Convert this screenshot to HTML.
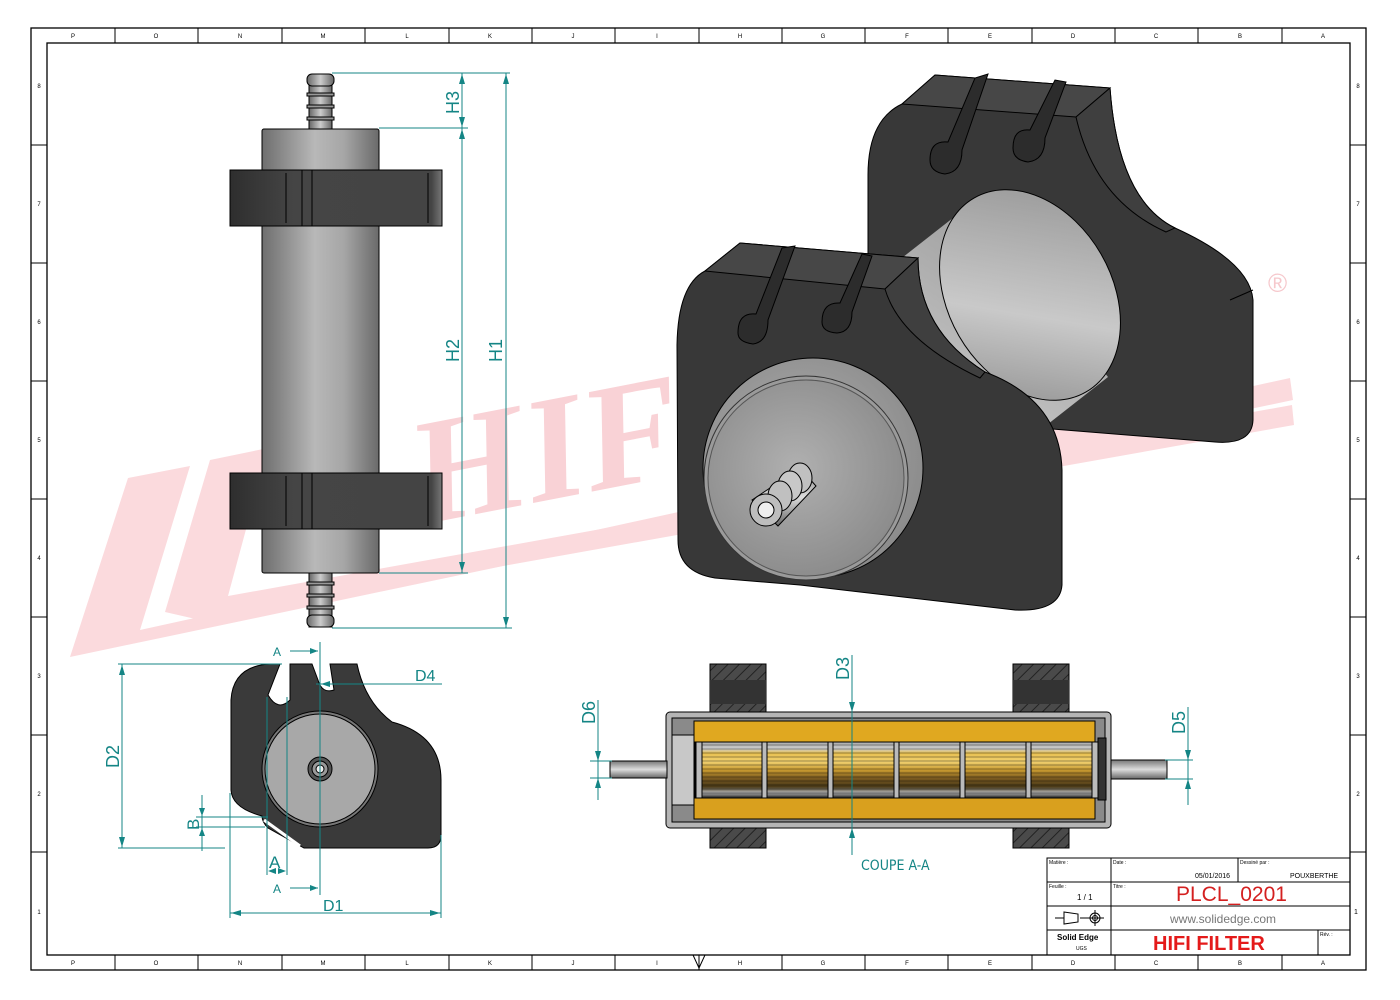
<!DOCTYPE html>
<html><head><meta charset="utf-8"><style>
html,body{margin:0;padding:0;background:#fff;}
svg{display:block;font-family:"Liberation Sans",sans-serif;}
</style></head><body>
<svg width="1400" height="1000" viewBox="0 0 1400 1000" xmlns="http://www.w3.org/2000/svg">
<defs>
<linearGradient id="cylH" x1="0" x2="1" y1="0" y2="0">
<stop offset="0" stop-color="#6e6e6e"/><stop offset="0.45" stop-color="#b8b8b8"/><stop offset="0.7" stop-color="#a6a6a6"/><stop offset="1" stop-color="#6a6a6a"/></linearGradient>
<linearGradient id="clampH" x1="0" x2="1"><stop offset="0" stop-color="#2e2e2e"/><stop offset="0.3" stop-color="#454545"/><stop offset="0.95" stop-color="#444"/><stop offset="1" stop-color="#777"/></linearGradient>
<linearGradient id="barb" x1="0" x2="1"><stop offset="0" stop-color="#666"/><stop offset="0.5" stop-color="#ccc"/><stop offset="1" stop-color="#666"/></linearGradient>
<linearGradient id="barbV" x1="0" x2="0" y1="0" y2="1"><stop offset="0" stop-color="#777"/><stop offset="0.5" stop-color="#ddd"/><stop offset="1" stop-color="#666"/></linearGradient>
<linearGradient id="tube" x1="0" y1="1" x2="0.6" y2="0"><stop offset="0" stop-color="#8a8a8a"/><stop offset="0.5" stop-color="#c9c9c9"/><stop offset="1" stop-color="#a0a0a0"/></linearGradient>
<radialGradient id="cap" cx="0.45" cy="0.45" r="0.6"><stop offset="0" stop-color="#b0b0b0"/><stop offset="1" stop-color="#8a8a8a"/></radialGradient>
<linearGradient id="core" x1="0" x2="0" y1="0" y2="1">
<stop offset="0" stop-color="#aaa"/><stop offset="0.12" stop-color="#ccc"/><stop offset="0.2" stop-color="#e8c050"/><stop offset="0.35" stop-color="#f0d070"/><stop offset="0.5" stop-color="#c89a30"/><stop offset="0.65" stop-color="#7a5a20"/><stop offset="0.8" stop-color="#4a3a18"/><stop offset="0.9" stop-color="#aaa"/><stop offset="1" stop-color="#333"/></linearGradient>
<pattern id="lines" width="4" height="4" patternUnits="userSpaceOnUse"><rect width="4" height="2" fill="rgba(0,0,0,0.18)"/></pattern>
<pattern id="hatch" width="8" height="8" patternUnits="userSpaceOnUse" patternTransform="rotate(45)"><rect width="8" height="8" fill="#4a4a4a"/><rect width="1" height="8" fill="#222"/></pattern>
</defs>

<!-- watermark -->
<g fill="#fbdadd">
<polygon points="70,657 128,478 190,466 140,630 1290,378 1293,400"/>
<polygon points="165,612 210,460 268,448 228,596 1292,405 1294,425 200,620"/>
<text x="420" y="525" font-size="150" font-weight="bold" font-style="italic" font-family="Liberation Serif,serif" transform="rotate(-11 420 525)" fill="#f9d2d6">HIFI</text>
<text x="1268" y="292" font-size="26" fill="#f6c8cc">®</text>
</g>

<!-- frame -->
<g fill="none" stroke="#000" stroke-width="1.3">
<rect x="31" y="28" width="1335" height="942"/>
<rect x="47" y="43" width="1303" height="912"/>
</g>
<g stroke="#000" stroke-width="1">
<line x1="115" y1="28" x2="115" y2="43"/><line x1="198" y1="28" x2="198" y2="43"/><line x1="282" y1="28" x2="282" y2="43"/><line x1="365" y1="28" x2="365" y2="43"/><line x1="449" y1="28" x2="449" y2="43"/><line x1="532" y1="28" x2="532" y2="43"/><line x1="615" y1="28" x2="615" y2="43"/><line x1="699" y1="28" x2="699" y2="43"/><line x1="782" y1="28" x2="782" y2="43"/><line x1="865" y1="28" x2="865" y2="43"/><line x1="948" y1="28" x2="948" y2="43"/><line x1="1032" y1="28" x2="1032" y2="43"/><line x1="1115" y1="28" x2="1115" y2="43"/><line x1="1198" y1="28" x2="1198" y2="43"/><line x1="1282" y1="28" x2="1282" y2="43"/>
<line x1="115" y1="955" x2="115" y2="970"/><line x1="198" y1="955" x2="198" y2="970"/><line x1="282" y1="955" x2="282" y2="970"/><line x1="365" y1="955" x2="365" y2="970"/><line x1="449" y1="955" x2="449" y2="970"/><line x1="532" y1="955" x2="532" y2="970"/><line x1="615" y1="955" x2="615" y2="970"/><line x1="699" y1="955" x2="699" y2="970"/><line x1="782" y1="955" x2="782" y2="970"/><line x1="865" y1="955" x2="865" y2="970"/><line x1="948" y1="955" x2="948" y2="970"/><line x1="1032" y1="955" x2="1032" y2="970"/><line x1="1115" y1="955" x2="1115" y2="970"/><line x1="1198" y1="955" x2="1198" y2="970"/><line x1="1282" y1="955" x2="1282" y2="970"/>
<line x1="31" y1="145" x2="47" y2="145"/><line x1="31" y1="263" x2="47" y2="263"/><line x1="31" y1="381" x2="47" y2="381"/><line x1="31" y1="499" x2="47" y2="499"/><line x1="31" y1="617" x2="47" y2="617"/><line x1="31" y1="735" x2="47" y2="735"/><line x1="31" y1="852" x2="47" y2="852"/>
<line x1="1350" y1="145" x2="1366" y2="145"/><line x1="1350" y1="263" x2="1366" y2="263"/><line x1="1350" y1="381" x2="1366" y2="381"/><line x1="1350" y1="499" x2="1366" y2="499"/><line x1="1350" y1="617" x2="1366" y2="617"/><line x1="1350" y1="735" x2="1366" y2="735"/><line x1="1350" y1="852" x2="1366" y2="852"/>
</g>
<g font-size="6" fill="#000" text-anchor="middle">
<text x="73" y="38">P</text><text x="156" y="38">O</text><text x="240" y="38">N</text><text x="323" y="38">M</text><text x="407" y="38">L</text><text x="490" y="38">K</text><text x="573" y="38">J</text><text x="657" y="38">I</text><text x="740" y="38">H</text><text x="823" y="38">G</text><text x="907" y="38">F</text><text x="990" y="38">E</text><text x="1073" y="38">D</text><text x="1156" y="38">C</text><text x="1240" y="38">B</text><text x="1323" y="38">A</text>
<text x="73" y="965">P</text><text x="156" y="965">O</text><text x="240" y="965">N</text><text x="323" y="965">M</text><text x="407" y="965">L</text><text x="490" y="965">K</text><text x="573" y="965">J</text><text x="657" y="965">I</text><text x="740" y="965">H</text><text x="823" y="965">G</text><text x="907" y="965">F</text><text x="990" y="965">E</text><text x="1073" y="965">D</text><text x="1156" y="965">C</text><text x="1240" y="965">B</text><text x="1323" y="965">A</text>
<text x="39" y="88">8</text><text x="39" y="206">7</text><text x="39" y="324">6</text><text x="39" y="442">5</text><text x="39" y="560">4</text><text x="39" y="678">3</text><text x="39" y="796">2</text><text x="39" y="914">1</text>
<text x="1358" y="88">8</text><text x="1358" y="206">7</text><text x="1358" y="324">6</text><text x="1358" y="442">5</text><text x="1358" y="560">4</text><text x="1358" y="678">3</text><text x="1358" y="796">2</text>
</g>
<polygon points="693,955 705,955 699,968" fill="none" stroke="#000"/>

<!-- LEFT VIEW -->
<g stroke="#000" stroke-width="1">
<rect x="309" y="75" width="23" height="54" fill="url(#barb)"/>
<rect x="307" y="74" width="27" height="12" rx="5" fill="url(#barb)"/>
<rect x="307" y="93" width="27" height="3" fill="#999"/><rect x="307" y="105" width="27" height="3" fill="#999"/><rect x="307" y="117" width="27" height="3" fill="#999"/>
<rect x="309" y="573" width="23" height="54" fill="url(#barb)"/>
<rect x="307" y="615" width="27" height="12" rx="5" fill="url(#barb)"/>
<rect x="307" y="582" width="27" height="3" fill="#999"/><rect x="307" y="594" width="27" height="3" fill="#999"/><rect x="307" y="606" width="27" height="3" fill="#999"/>
<rect x="262" y="129" width="117" height="444" rx="2" fill="url(#cylH)"/>
<rect x="230" y="170" width="212" height="56" fill="url(#clampH)"/>
<rect x="230" y="473" width="212" height="56" fill="url(#clampH)"/>
<line x1="286" y1="173" x2="286" y2="223"/><line x1="302" y1="170" x2="302" y2="226"/><line x1="312" y1="170" x2="312" y2="226"/><line x1="428" y1="173" x2="428" y2="223"/>
<line x1="286" y1="476" x2="286" y2="526"/><line x1="302" y1="473" x2="302" y2="529"/><line x1="312" y1="473" x2="312" y2="529"/><line x1="428" y1="476" x2="428" y2="526"/>
</g>
<g stroke="#148585" stroke-width="1" fill="none">
<line x1="332" y1="73" x2="510" y2="73"/><line x1="379" y1="128" x2="468" y2="128"/><line x1="379" y1="573" x2="468" y2="573"/><line x1="332" y1="628" x2="512" y2="628"/>
<line x1="462" y1="73" x2="462" y2="573"/><line x1="506" y1="73" x2="506" y2="628"/>
</g>
<g fill="#148585">
<polygon points="462,74 459,84 465,84"/><polygon points="462,127 459,117 465,117"/><polygon points="462,129 459,139 465,139"/><polygon points="462,572 459,562 465,562"/>
<polygon points="506,74 503,84 509,84"/><polygon points="506,627 503,617 509,617"/>
</g>
<g fill="#148585" font-size="18">
<text transform="translate(459,114) rotate(-90)">H3</text>
<text transform="translate(459,362) rotate(-90)">H2</text>
<text transform="translate(502,362) rotate(-90)">H1</text>
</g>

<!-- 3D VIEW -->
<g stroke="#000" stroke-width="1">
<!-- back clamp -->
<path d="M868,175 Q868,120 902,104 L935,75 L1110,88 Q1118,200 1175,228 Q1250,262 1253,300 L1253,420 Q1252,445 1215,442 L1040,428 L868,405 Z" fill="#383838"/>
<polygon points="902,104 935,75 1110,88 1076,117" fill="#474747"/>
<path d="M1076,117 L1110,88 Q1118,200 1175,228 L1166,232 Q1095,200 1076,117 Z" fill="#3f3f3f"/>
<line x1="1230" y1="300" x2="1253" y2="290"/>
<path d="M930,160 Q930,140 948,142 L975,78 L988,74 L962,150 Q962,172 945,174 Q930,172 930,160 Z" fill="#2c2c2c"/>
<path d="M1013,148 Q1013,128 1030,130 L1055,80 L1066,82 L1045,138 Q1045,160 1028,162 Q1013,160 1013,148 Z" fill="#2c2c2c"/>
<!-- cylinder -->
<polygon points="881,555 1108,377 972,203 745,381" fill="url(#tube)" stroke="none"/>
<ellipse cx="1030" cy="295" rx="82" ry="112" transform="rotate(-30 1030 295)" fill="url(#tube)" stroke="#000"/>
<!-- front clamp -->
<path d="M677,345 Q678,285 705,271 L740,243 L918,258 Q918,330 985,372 Q1060,400 1062,470 L1062,585 Q1060,612 1015,610 L800,585 L715,578 Q678,572 678,540 Z" fill="#383838"/>
<polygon points="705,271 740,243 918,258 885,289" fill="#474747"/>
<path d="M885,289 L918,258 Q918,330 985,372 L980,378 Q900,340 885,289 Z" fill="#3f3f3f"/>
<path d="M738,333 Q738,312 756,314 L782,248 L795,246 L768,320 Q768,342 753,344 Q738,342 738,333 Z" fill="#2c2c2c"/>
<path d="M822,322 Q822,302 840,303 L862,254 L872,256 L852,312 Q852,332 837,333 Q822,332 822,322 Z" fill="#2c2c2c"/>
<!-- cap -->
<circle cx="813" cy="468" r="110" fill="url(#cap)"/>
<circle cx="806" cy="478" r="102" fill="#9a9a9a" stroke="#333"/>
<circle cx="806" cy="478" r="98" fill="url(#cap)" stroke="#555"/>
<polygon points="752,500 800,468 816,486 778,526" fill="url(#barbV)"/>
<ellipse cx="800" cy="478" rx="12" ry="15" fill="#c0c0c0"/>
<ellipse cx="790" cy="486" rx="12" ry="15" fill="#c8c8c8"/>
<ellipse cx="780" cy="496" rx="12" ry="15" fill="#c0c0c0"/>
<circle cx="766" cy="510" r="16" fill="#bdbdbd"/>
<circle cx="766" cy="510" r="8" fill="#eee"/>
</g>

<!-- SECTION VIEW -->
<g stroke="#000" stroke-width="1">
<rect x="710" y="664" width="56" height="48" fill="url(#hatch)"/>
<rect x="1013" y="664" width="56" height="48" fill="url(#hatch)"/>
<rect x="710" y="828" width="56" height="20" fill="url(#hatch)"/>
<rect x="1013" y="828" width="56" height="20" fill="url(#hatch)"/>
<rect x="710" y="680" width="56" height="24" fill="#333" stroke="none"/>
<rect x="1013" y="680" width="56" height="24" fill="#333" stroke="none"/>
<rect x="666" y="712" width="445" height="116" rx="4" fill="#b5b5b5"/>
<rect x="672" y="718" width="433" height="104" fill="#8a8a8a"/>
<rect x="672" y="735" width="22" height="70" fill="#c8c8c8"/>
<rect x="694" y="721" width="401" height="21" fill="#e0a820"/>
<rect x="694" y="798" width="401" height="21" fill="#d9a01e"/>
<rect x="695" y="742" width="401" height="56" fill="url(#core)"/>
<rect x="695" y="742" width="401" height="56" fill="url(#lines)" stroke="none"/>
<rect x="696" y="742" width="6" height="56" fill="#bbb"/><rect x="762" y="742" width="5" height="56" fill="#bbb"/><rect x="828" y="742" width="5" height="56" fill="#bbb"/><rect x="894" y="742" width="5" height="56" fill="#bbb"/><rect x="960" y="742" width="5" height="56" fill="#bbb"/><rect x="1026" y="742" width="5" height="56" fill="#bbb"/><rect x="1092" y="742" width="6" height="56" fill="#bbb"/>
<rect x="1098" y="738" width="8" height="62" fill="#333"/>
<rect x="610" y="761" width="57" height="17" fill="url(#barbV)"/>
<rect x="1111" y="760" width="56" height="19" fill="url(#barbV)"/>
</g>
<g stroke="#148585" stroke-width="1" fill="none">
<line x1="852" y1="655" x2="852" y2="855"/>
<line x1="598" y1="700" x2="598" y2="800"/><line x1="590" y1="761" x2="612" y2="761"/><line x1="590" y1="778" x2="612" y2="778"/>
<line x1="1188" y1="707" x2="1188" y2="805"/><line x1="1165" y1="760" x2="1193" y2="760"/><line x1="1165" y1="779" x2="1193" y2="779"/>
</g>
<g fill="#148585">
<polygon points="852,712 849,702 855,702"/><polygon points="852,828 849,838 855,838"/>
<polygon points="598,761 595,751 601,751"/><polygon points="598,778 595,788 601,788"/>
<polygon points="1188,760 1185,750 1191,750"/><polygon points="1188,779 1185,789 1191,789"/>
<text transform="translate(849,680) rotate(-90)" font-size="18">D3</text>
<text transform="translate(595,724) rotate(-90)" font-size="18">D6</text>
<text transform="translate(1185,734) rotate(-90)" font-size="18">D5</text>
<text x="861" y="870" font-size="14" font-family="DejaVu Sans Condensed,Liberation Sans Narrow,sans-serif">COUPE A-A</text>
</g>

<!-- BOTTOM-LEFT VIEW -->
<g stroke="#000" stroke-width="1">
<path d="M231,700 Q233,666 270,664 L280,664 L268,695 Q278,712 290,700 L290,664 L312,664 L318,680 Q322,694 334,690 L330,664 L357,664 Q365,702 392,722 Q441,735 441,780 L441,835 Q441,848 428,848 L304,848 L268,828 Q262,822 262,816 Q232,808 231,790 Z" fill="#3a3a3a"/>
<circle cx="320" cy="769" r="58" fill="#777"/>
<circle cx="320" cy="769" r="55" fill="#a8a8a8"/>
<circle cx="320" cy="769" r="12" fill="#555"/><circle cx="320" cy="769" r="8" fill="#999"/><circle cx="320" cy="769" r="4" fill="#eee"/>
</g>
<path d="M264,820 L300,846" stroke="#fff" stroke-width="3"/>
<g stroke="#148585" stroke-width="1" fill="none">
<line x1="118" y1="664" x2="282" y2="664"/><line x1="118" y1="848" x2="225" y2="848"/>
<line x1="122" y1="664" x2="122" y2="848"/>
<line x1="230" y1="793" x2="230" y2="918"/><line x1="441" y1="835" x2="441" y2="918"/>
<line x1="230" y1="913" x2="441" y2="913"/>
<line x1="320" y1="642" x2="320" y2="895"/>
<line x1="316" y1="684" x2="442" y2="684"/>
<line x1="267" y1="697" x2="267" y2="875"/><line x1="287" y1="697" x2="287" y2="875"/>
<line x1="202" y1="795" x2="202" y2="851"/><line x1="196" y1="817" x2="268" y2="817"/><line x1="196" y1="827" x2="265" y2="827"/>
<line x1="290" y1="651" x2="318" y2="651"/><line x1="290" y1="888" x2="318" y2="888"/>
</g>
<g fill="#148585">
<polygon points="122,665 119,675 125,675"/><polygon points="122,847 119,837 125,837"/>
<polygon points="231,913 241,910 241,916"/><polygon points="440,913 430,910 430,916"/>
<polygon points="318,651 310,648 310,654"/><polygon points="318,888 310,885 310,891"/>
<polygon points="321,684 330,681 330,687"/>
<polygon points="268,871 276,868 276,874"/><polygon points="286,871 278,868 278,874"/>
<polygon points="202,816 199,808 205,808"/><polygon points="202,828 199,836 205,836"/>
<text transform="translate(119,768) rotate(-90)" font-size="18">D2</text>
<text x="323" y="911" font-size="16">D1</text>
<text x="415" y="681" font-size="16">D4</text>
<text x="269" y="868" font-size="17">A</text>
<text transform="translate(199,830) rotate(-90)" font-size="17">B</text>
<text x="273" y="656" font-size="12">A</text>
<text x="273" y="893" font-size="12">A</text>
</g>

<!-- TITLE BLOCK -->
<g stroke="#000" stroke-width="1" fill="none">
<rect x="1047" y="858" width="303" height="97"/>
<line x1="1047" y1="882" x2="1350" y2="882"/><line x1="1047" y1="906" x2="1350" y2="906"/><line x1="1047" y1="930" x2="1350" y2="930"/>
<line x1="1111" y1="858" x2="1111" y2="955"/><line x1="1238" y1="858" x2="1238" y2="882"/><line x1="1318" y1="930" x2="1318" y2="955"/>
</g>
<g font-size="5" fill="#000">
<text x="1049" y="864">Matière :</text><text x="1113" y="864">Date :</text><text x="1240" y="864">Dessiné par :</text>
<text x="1049" y="888">Feuille :</text><text x="1113" y="888">Titre :</text><text x="1320" y="936">Rév. :</text>
</g>
<text x="1195" y="878" font-size="7">05/01/2016</text>
<text x="1290" y="878" font-size="7">POUXBERTHE</text>
<text x="1077" y="900" font-size="8">1 / 1</text>
<text x="1176" y="901" font-size="21" fill="#d42020">PLCL_0201</text>
<text x="1170" y="923" font-size="12" fill="#777">www.solidedge.com</text>
<text x="1153" y="950" font-size="20" font-weight="bold" fill="#e41a1a">HIFI FILTER</text>
<text x="1057" y="940" font-size="8" font-weight="bold">Solid Edge</text>
<text x="1076" y="950" font-size="5">UGS</text>
<g stroke="#000" fill="none">
<line x1="1055" y1="918" x2="1064" y2="918"/><path d="M1064,912 L1078,914 L1078,922 L1064,924 Z"/><line x1="1080" y1="918" x2="1104" y2="918"/><circle cx="1095" cy="918" r="5"/><circle cx="1095" cy="918" r="2.5"/><line x1="1095" y1="910" x2="1095" y2="926"/>
</g>
<text x="1354" y="914" font-size="7">1</text>
</svg>
</body></html>
